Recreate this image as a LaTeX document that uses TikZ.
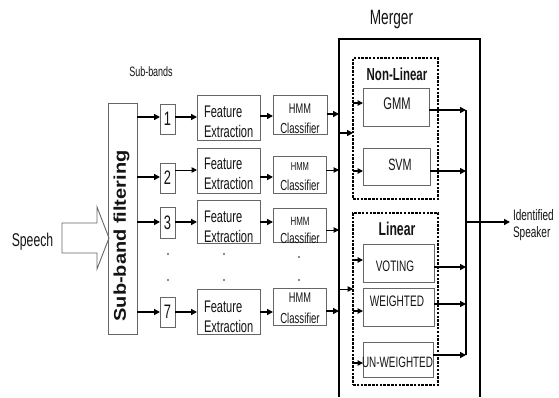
\documentclass[tikz,border=0pt]{standalone}
\usepackage{fontspec}
\setmainfont{Liberation Sans}[FakeStretch=0.66]
\newfontfamily\plainsans{Liberation Sans}
\usetikzlibrary{arrows.meta,calc}
\newcommand\myfs[2]{\fontsize{#1}{#2}\selectfont}
\definecolor{boxgray}{gray}{0.4}
\definecolor{txtc}{gray}{0.08}
\begin{document}
\begin{tikzpicture}[x=1pt,y=-1pt,
  bx/.style n args={2}{draw=boxgray, line width=0.9pt, minimum width=#1pt, minimum height=#2pt, inner sep=0pt, outer sep=0pt, text=txtc},
  dbox/.style n args={2}{draw=black, line width=1.4pt, dash pattern=on 2.5pt off 1.3pt, minimum width=#1pt, minimum height=#2pt, inner sep=0pt, outer sep=0pt},
  lbl/.style={inner sep=0pt, outer sep=0pt, anchor=base, text=txtc},
  fet/.style={anchor=north west, align=left, inner sep=0pt, outer sep=0pt, font=\myfs{16.8}{20.5}, text=txtc},
  digit/.style={font=\myfs{19.5}{21}},
  arr/.style={-{Triangle[length=6pt,width=6pt]}, line width=1.8pt},
  arrt/.style={-{Triangle[length=5.5pt,width=5.5pt]}, line width=1pt},
  arrm/.style={-{Triangle[length=5.5pt,width=5.5pt]}, line width=1.4pt},
  ]
\useasboundingbox (0,0) rectangle (559,397);

% ---- Merger outline (open at the bottom)
\coordinate (mbl) at (339,397);
\coordinate (mtl) at (339,39);
\coordinate (mtr) at (480,39);
\coordinate (mbr) at (480,397);
\draw[line width=2pt] (mbl) -- (mtl) -- (mtr) -- (mbr);
\node[lbl, font=\myfs{20.7}{24}] (merger) at (391.5,24) {Merger};

% ---- Speech input
\draw[draw=boxgray, line width=0.9pt] (62,223) -- (97,223) -- (97,207) -- (109,238) -- (97,269) -- (97,253) -- (62,253) -- cycle;
\node[lbl, font=\myfs{18.5}{21}] (speech) at (32.5,246) {Speech};
\node[lbl, font=\myfs{13.6}{16}] (subbands) at (151,76) {Sub-bands};

% ---- Sub-band filter
\node[bx={29}{231}] (filt) at (122.5,218.5) {};
\node[rotate=90, inner sep=0pt, text=txtc] (filtt) at (121.5,236) {\scalebox{1}[0.85]{\plainsans\bfseries\myfs{20}{24}Sub-band filtering}};

% ---- Sub-band number boxes
\node[bx={15}{30}, digit] (b1) at (167.5,119) {1};
\node[bx={15}{30}, digit] (b2) at (167.5,178) {2};
\node[bx={15}{31}, digit] (b3) at (167.5,222.5) {3};
\node[bx={15}{30}, digit] (b7) at (167.5,312) {7};

% ---- Feature extraction boxes
\node[bx={63}{45}] (fe1) at (228.5,117.5) {};
\node[bx={63}{45}] (fe2) at (228.5,170.5) {};
\node[bx={63}{43}] (fe3) at (228.5,221.5) {};
\node[bx={63}{45}] (fe4) at (228.5,311.5) {};
\node[fet] (fe1t) at (204,105) {\rule{0pt}{12pt}Feature\\Extraction};
\node[fet] (fe2t) at (204,157) {\rule{0pt}{12pt}Feature\\Extraction};
\node[fet] (fe3t) at (204,210) {\rule{0pt}{12pt}Feature\\Extraction};
\node[fet] (fe4t) at (204,300) {\rule{0pt}{12pt}Feature\\Extraction};

% ---- HMM classifier boxes
\node[bx={54}{39}] (h1) at (300,114.5) {};
\node[bx={53}{37}] (h2) at (299.5,174.5) {};
\node[bx={53}{34}] (h3) at (299.5,225) {};
\node[bx={53}{37}] (h4) at (299.5,306.5) {};
\node[lbl, font=\myfs{14}{16}] (h1a) at (300,113) {HMM};
\node[lbl, font=\myfs{14.5}{16}] (h1b) at (300,133) {Classifier};
\node[lbl, font=\myfs{11.5}{13}] (h2a) at (300,170) {HMM};
\node[lbl, font=\myfs{14.5}{16}] (h2b) at (300,190) {Classifier};
\node[lbl, font=\myfs{12}{13}] (h3a) at (300,225) {HMM};
\node[lbl, font=\myfs{14.5}{16}] (h3b) at (300,243) {Classifier};
\node[lbl, font=\myfs{14}{16}] (h4a) at (300,302) {HMM};
\node[lbl, font=\myfs{14.5}{16}] (h4b) at (300,323) {Classifier};

% ---- dots
\foreach \px/\py in {168/254,168/280,224/254,224/280,299/257,299/280}
  \fill[txtc] (\px,\py) circle (0.9pt);

% ---- Row connectors
\draw[arr] (filt.east |- 0,117) -- (b1.west |- 0,117);
\draw[arr] (b1.east |- 0,117) -- (fe1.west |- 0,117);
\draw[arr] (fe1.east |- 0,116) -- (h1.west |- 0,116);
\draw[arr] (h1.east |- 0,114) -- (mtl |- 0,114);

\draw[arr] (filt.east |- 0,177) -- (b2.west |- 0,177);
\draw[arrt] (b2.east |- 0,170) -- (fe2.west |- 0,170);
\draw[arr] (fe2.east |- 0,177) -- (h2.west |- 0,177);
\draw[arrt] (h2.east |- 0,170) -- (mtl |- 0,170);

\draw[arr] (filt.east |- 0,222) -- (b3.west |- 0,222);
\draw[arr] (b3.east |- 0,222) -- (fe3.west |- 0,222);
\draw[arr] (fe3.east |- 0,222) -- (h3.west |- 0,222);
\draw[arrt] (h3.east |- 0,230) -- (mtl |- 0,230);

\draw[arr] (filt.east |- 0,312) -- (b7.west |- 0,312);
\draw[arr] (b7.east |- 0,312) -- (fe4.west |- 0,312);
\draw[arr] (fe4.east |- 0,312) -- (h4.west |- 0,312);
\draw[arr] (h4.east |- 0,311) -- (mtl |- 0,311);

% ---- Merger inner groups
\node[dbox={85}{141}] (nl) at (395.5,128.5) {};
\node[dbox={85}{172}] (lin) at (395.5,299) {};
\node[lbl, font=\bfseries\myfs{17.4}{20}] (nlt) at (397,80) {Non-Linear};
\node[lbl, font=\bfseries\myfs{18.5}{21}] (lint) at (397,235) {Linear};

\node[bx={66}{38}] (gmm) at (396,107) {};
\node[bx={67}{37}] (svm) at (396.5,166.5) {};
\node[bx={71}{38}] (vot) at (398.5,263) {};
\node[bx={71}{38}] (wei) at (398.5,307) {};
\node[bx={70}{35}] (unw) at (398,359.5) {};
\node[lbl, font=\myfs{16.9}{19}] (gmmt) at (397,109) {GMM};
\node[lbl, font=\myfs{16.4}{19}] (svmt) at (400,170) {SVM};
\node[lbl, font=\myfs{15.2}{17}] (vott) at (395,271) {VOTING};
\node[lbl, font=\myfs{15.2}{17}] (weit) at (397,306) {WEIGHTED};
\node[lbl, font=\myfs{15}{17}] (unwt) at (397.5,367) {UN-WEIGHTED};

\draw[arr] (mtl |- 0,133) -- (nl.west |- 0,133);
\draw[arrm] (nl.west |- 0,103) -- (gmm.west |- 0,103);
\draw[arrm] (nl.west |- 0,171) -- (svm.west |- 0,171);
\draw[arrt] (mtl |- 0,289) -- (lin.west |- 0,289);
\draw[arrm] (lin.west |- 0,260) -- (vot.west |- 0,260);
\draw[arrm] (lin.west |- 0,311) -- (wei.west |- 0,311);
\draw[arrm] (lin.west |- 0,363) -- (unw.west |- 0,363);

% ---- Output bus
\coordinate (rbt) at (466,110);
\coordinate (rbb) at (466,355);
\draw[line width=2pt] (rbt) -- (rbb);
\draw[arr] (gmm.east |- rbt) -- (rbt);
\draw[arr] (svm.east |- 0,171) -- (rbt |- 0,171);
\draw[arr] (vot.east |- 0,267) -- (rbt |- 0,267);
\draw[arr] (wei.east |- 0,304) -- (rbt |- 0,304);
\draw[arr] (unw.east |- rbb) -- (rbb);
\coordinate (out) at (510,222);
\draw[arr] (rbt |- out) -- (out);
\node[anchor=north west, align=left, inner sep=0pt, outer sep=0pt, font=\myfs{15.2}{17}, text=txtc] (ident) at (513,208.5) {\rule{0pt}{11.5pt}Identified\\Speaker};
\end{tikzpicture}
\end{document}
